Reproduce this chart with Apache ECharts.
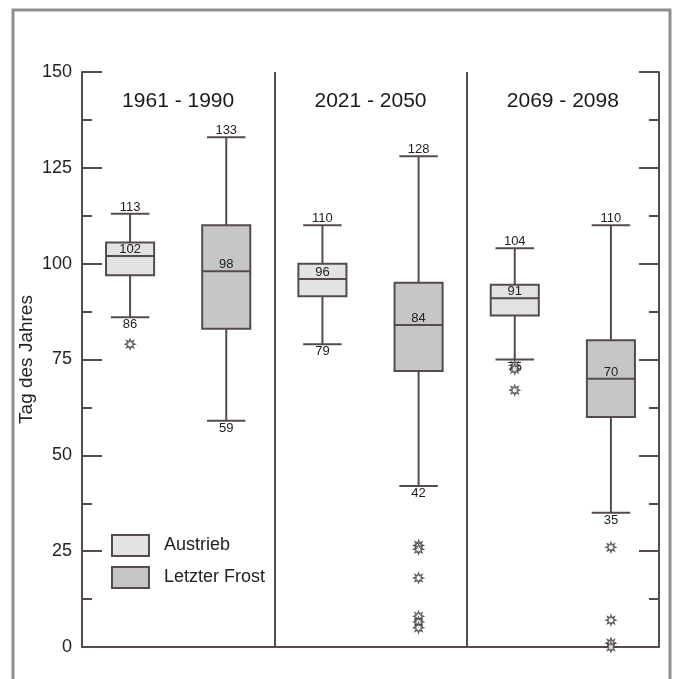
<!DOCTYPE html>
<html>
<head>
<meta charset="utf-8">
<script src="https://cdn.jsdelivr.net/npm/echarts@6/dist/echarts.min.js"></script>
<style>
  html, body { margin: 0; padding: 0; background: #fff; }
  #chart { width: 675px; height: 679px; }
</style>
</head>
<body>
<div id="chart"></div>
<script>
// periods (one panel each)
const periods = ["1961 - 1990", "2021 - 2050", "2069 - 2098"];
const seriesNames = ["Austrieb", "Letzter Frost"];

// [min, Q1, median, Q3, max] per period
const austrieb = [
  [86, 97, 102, 105.5, 113],
  [79, 91.5, 96, 100, 110],
  [75, 86.5, 91, 94.5, 104]
];
const frost = [
  [59, 83, 98, 110, 133],
  [42, 72, 84, 95, 128],
  [35, 60, 70, 80, 110]
];

// outliers per period
const austriebOut = [[79], [], [73.5, 72.5, 67]];
const frostOut = [[], [26.5, 25.5, 18, 8, 6.5, 5], [26, 7, 1, 0]];

const lineColor = "#554b4b";
const textColor = "#222";
const fills = ["#e3e3e3", "#c6c6c6"];

// slot index: Austrieb at 2*i, Frost at 2*i+1
const slots = ["A1", "F1", "A2", "F2", "A3", "F3"];

function boxData(arr, offset) {
  return arr.map((v, i) => [2 * i + offset].concat(v));
}
function outData(arr, offset) {
  const res = [];
  arr.forEach((vals, i) => vals.forEach(v => res.push([2 * i + offset, v])));
  return res;
}

// 8-point sun shaped symbol
function starPath() {
  let d = "";
  for (let k = 0; k < 16; k++) {
    const a = (k * Math.PI) / 8 - Math.PI / 2;
    const r = k % 2 === 0 ? 10 : 5;
    d += (k === 0 ? "M" : "L") + (10 + r * Math.cos(a)).toFixed(2) + " " + (10 + r * Math.sin(a)).toFixed(2) + " ";
  }
  return "path://" + d + "Z";
}
const sun = starPath();

function renderBox(params, api) {
  const x = api.value(0);
  const band = api.size([1, 0])[0];
  const hw = band * 0.25;
  const cw = band * 0.2;
  const pMin = api.coord([x, api.value(1)]);
  const pQ1 = api.coord([x, api.value(2)]);
  const pMed = api.coord([x, api.value(3)]);
  const pQ3 = api.coord([x, api.value(4)]);
  const pMax = api.coord([x, api.value(5)]);
  const cx = pMed[0];
  const fill = api.visual("color");
  const st = { stroke: lineColor, lineWidth: 2 };
  const txt = (t, y, va) => ({
    type: "text",
    style: {
      text: String(t), x: cx, y: y, align: "center", verticalAlign: va,
      fill: textColor, font: "13px 'Liberation Sans', Arial, sans-serif"
    },
    z2: 5
  });
  return {
    type: "group",
    children: [
      { type: "line", shape: { x1: cx, y1: pMax[1], x2: cx, y2: pQ3[1] }, style: st },
      { type: "line", shape: { x1: cx, y1: pQ1[1], x2: cx, y2: pMin[1] }, style: st },
      { type: "line", shape: { x1: cx - cw, y1: pMax[1], x2: cx + cw, y2: pMax[1] }, style: st },
      { type: "line", shape: { x1: cx - cw, y1: pMin[1], x2: cx + cw, y2: pMin[1] }, style: st },
      {
        type: "rect",
        shape: { x: cx - hw, y: pQ3[1], width: hw * 2, height: pQ1[1] - pQ3[1] },
        style: { fill: fill, stroke: lineColor, lineWidth: 2 }
      },
      { type: "line", shape: { x1: cx - hw, y1: pMed[1], x2: cx + hw, y2: pMed[1] }, style: st, z2: 2 },
      txt(api.value(5), pMax[1], "bottom"),
      txt(api.value(1), pMin[1] + 1, "top"),
      txt(api.value(3), pMed[1], "bottom")
    ]
  };
}

const chart = echarts.init(document.getElementById("chart"));
chart.setOption({
  animation: false,
  backgroundColor: "#fff",
  textStyle: { fontFamily: "'Liberation Sans', Arial, sans-serif" },
  graphic: [
    {
      type: "rect",
      shape: { x: 13, y: 10, width: 657, height: 700 },
      style: { fill: "none", stroke: "#8e8e8e", lineWidth: 3 },
      silent: true
    }
  ],
  grid: { left: 82, right: 16, top: 72, bottom: 32 },
  legend: {
    orient: "vertical",
    left: 111,
    top: 534,
    padding: 0,
    itemWidth: 37,
    itemHeight: 21,
    itemGap: 9,
    icon: "rect",
    textStyle: { fontSize: 18, color: textColor, padding: [0, 0, 0, 10] },
    data: [
      { name: seriesNames[0], itemStyle: { color: fills[0], borderColor: lineColor, borderWidth: 2 } },
      { name: seriesNames[1], itemStyle: { color: fills[1], borderColor: lineColor, borderWidth: 2 } }
    ]
  },
  xAxis: [
    {
      type: "category",
      data: slots,
      position: "bottom",
      axisLine: { show: true, lineStyle: { color: lineColor, width: 2 } },
      axisTick: { show: false },
      axisLabel: { show: false },
      splitLine: { show: false }
    },
    {
      type: "category",
      data: periods,
      position: "top",
      axisLine: { show: true, lineStyle: { color: lineColor, width: 2 } },
      axisTick: { show: false },
      axisLabel: { inside: true, margin: 19, fontSize: 21, color: "#1a1a1a" },
      splitLine: { show: true, lineStyle: { color: lineColor, width: 2 } }
    }
  ],
  yAxis: [
    {
      type: "value",
      min: 0,
      max: 150,
      interval: 25,
      position: "left",
      name: "Tag des Jahres",
      nameLocation: "middle",
      nameGap: 46,
      nameMoveOverlap: false,
      nameTextStyle: { fontSize: 19, color: textColor },
      axisLine: { show: true, lineStyle: { color: lineColor, width: 2 } },
      axisTick: { show: true, inside: true, length: 20, lineStyle: { color: lineColor, width: 2 } },
      minorTick: { show: true, splitNumber: 2, length: 10, lineStyle: { color: lineColor, width: 2 } },
      axisLabel: { fontSize: 18, color: textColor, margin: 10 },
      splitLine: { show: false }
    },
    {
      type: "value",
      min: 0,
      max: 150,
      interval: 25,
      position: "right",
      axisLine: { show: true, lineStyle: { color: lineColor, width: 2 } },
      axisTick: { show: true, inside: true, length: 20, lineStyle: { color: lineColor, width: 2 } },
      minorTick: { show: true, splitNumber: 2, length: 10, lineStyle: { color: lineColor, width: 2 } },
      axisLabel: { show: false },
      splitLine: { show: false }
    }
  ],
  series: [
    {
      name: seriesNames[0],
      type: "custom",
      xAxisIndex: 0,
      yAxisIndex: 0,
      itemStyle: { color: fills[0], borderColor: lineColor, borderWidth: 2 },
      encode: { x: 0, y: [1, 2, 3, 4, 5] },
      renderItem: renderBox,
      data: boxData(austrieb, 0)
    },
    {
      name: seriesNames[1],
      type: "custom",
      xAxisIndex: 0,
      yAxisIndex: 0,
      itemStyle: { color: fills[1], borderColor: lineColor, borderWidth: 2 },
      encode: { x: 0, y: [1, 2, 3, 4, 5] },
      renderItem: renderBox,
      data: boxData(frost, 1)
    },
    {
      name: "outliers",
      type: "scatter",
      xAxisIndex: 0,
      yAxisIndex: 0,
      symbol: sun,
      symbolSize: 10,
      itemStyle: { color: "#fff", borderColor: "#3a3333", borderWidth: 1.2 },
      z: 5,
      data: outData(austriebOut, 0).concat(outData(frostOut, 1))
    }
  ]
});
</script>
</body>
</html>
